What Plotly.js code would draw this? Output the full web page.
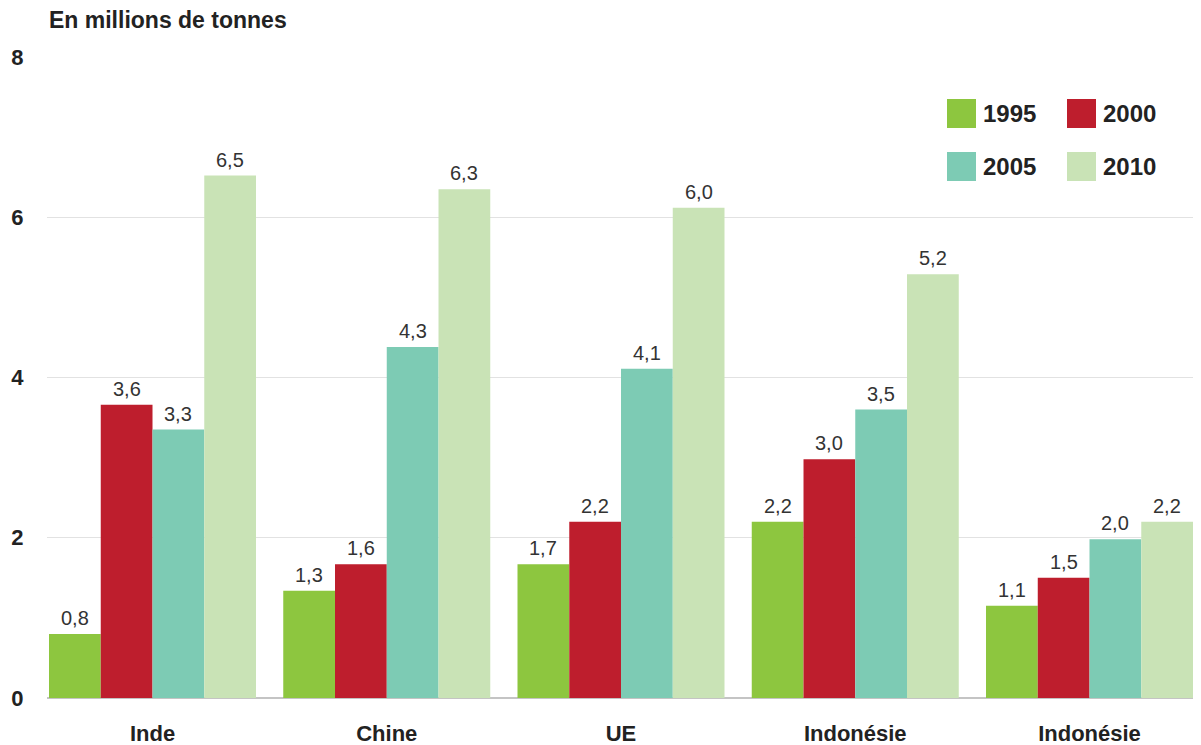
<!DOCTYPE html>
<html>
<head>
<meta charset="utf-8">
<script src="https://cdn.plot.ly/plotly-3.0.1.min.js"></script>
<style>html,body{margin:0;padding:0;background:#fff;}#chart{width:1201px;height:745px;}</style>
</head>
<body>
<div id="chart"></div>
<script>
// ---- data ----
const categories = ["Inde", "Chine", "UE", "Indonésie", "Indonésie"];
const years = ["1995", "2000", "2005", "2010"];
const v1995 = [0.80, 1.34, 1.67, 2.20, 1.15];
const v2000 = [3.66, 1.67, 2.20, 2.98, 1.50];
const v2005 = [3.35, 4.38, 4.11, 3.60, 1.98];
const v2010 = [6.52, 6.35, 6.12, 5.29, 2.20];
const l1995 = ["0,8", "1,3", "1,7", "2,2", "1,1"];
const l2000 = ["3,6", "1,6", "2,2", "3,0", "1,5"];
const l2005 = ["3,3", "4,3", "4,1", "3,5", "2,0"];
const l2010 = ["6,5", "6,3", "6,0", "5,2", "2,2"];
const yTicks = [0, 2, 4, 6, 8];
const yTickText = ["0", "2", "4", "6", "8"];

const colors = ["#8dc63f", "#be1e2d", "#7dcbb4", "#c9e3b6"];
const seriesValues = [v1995, v2000, v2005, v2010];
const seriesLabels = [l1995, l2000, l2005, l2010];
const xIdx = categories.map((c, i) => i);

const FONT = "Liberation Sans, Arial, Helvetica, sans-serif";
const W = 1201, H = 745;
const M = {l: 47, r: 8, t: 57, b: 47};
const PW = W - M.l - M.r, PH = H - M.t - M.b;
const bargap = 0.1163;

const traces = years.map((y, k) => ({
  type: "bar",
  name: y,
  x: xIdx,
  y: seriesValues[k],
  marker: {color: colors[k], line: {width: 0}},
  showlegend: false,
  hoverinfo: "skip"
}));

// value labels above bars (data coordinates)
const annotations = [];
const bw = (1 - bargap) / years.length;
years.forEach((y, k) => {
  const off = (k - (years.length - 1) / 2) * bw;
  seriesValues[k].forEach((v, i) => {
    annotations.push({
      x: xIdx[i] + off, y: v, xref: "x", yref: "y",
      text: seriesLabels[k][i], showarrow: false,
      xanchor: "center", yanchor: "bottom", yshift: 3,
      font: {family: FONT, size: 20, color: "#333333"}
    });
  });
});

// paper helpers (pixel -> paper coordinates of the plot area)
const px = (p) => (p - M.l) / PW;
const py = (p) => (H - M.b - p) / PH;

// title
annotations.push({
  x: px(47), y: py(20), xref: "paper", yref: "paper",
  text: "<b>En millions de tonnes</b>", showarrow: false,
  xanchor: "left", yanchor: "middle",
  font: {family: FONT, size: 23, color: "#222222"}
});

// custom legend (2 x 2)
const legPos = [[947, 99], [1067, 99], [947, 152], [1067, 152]];
const shapes = [];
years.forEach((y, k) => {
  const [lx, ly] = legPos[k];
  shapes.push({
    type: "rect", xref: "paper", yref: "paper",
    x0: px(lx), x1: px(lx + 29), y0: py(ly + 29), y1: py(ly),
    fillcolor: colors[k], line: {width: 0}
  });
  annotations.push({
    x: px(lx + 34), y: py(ly + 14.5), xref: "paper", yref: "paper",
    text: "<b>" + y + "</b>", showarrow: false,
    xanchor: "left", yanchor: "middle",
    font: {family: FONT, size: 24, color: "#222222"}
  });
});

const layout = {
  width: W, height: H,
  margin: M,
  paper_bgcolor: "#ffffff", plot_bgcolor: "#ffffff",
  barmode: "group", bargap: bargap, bargroupgap: 0,
  showlegend: false,
  xaxis: {
    range: [-0.4504, 4.4418],
    tickvals: xIdx, ticktext: categories.map(c => "<b>" + c + "</b>"),
    tickfont: {family: FONT, size: 22, color: "#222222"},
    showgrid: false, zeroline: false, showline: false,
    ticks: "outside", ticklen: 16, tickcolor: "rgba(0,0,0,0)",
    fixedrange: true
  },
  yaxis: {
    range: [0, 8],
    tickvals: yTicks, ticktext: yTickText.map(t => "<b>" + t + "</b>"),
    tickfont: {family: FONT, size: 22, color: "#222222"},
    showgrid: true, gridcolor: "#e2e2e2", gridwidth: 1,
    zeroline: true, zerolinecolor: "#c4c4c4", zerolinewidth: 1.5,
    showline: false,
    ticks: "outside", ticklen: 18, tickcolor: "rgba(0,0,0,0)",
    fixedrange: true
  },
  annotations: annotations,
  shapes: shapes
};

Plotly.newPlot("chart", traces, layout, {displayModeBar: false, staticPlot: true});
</script>
</body>
</html>
